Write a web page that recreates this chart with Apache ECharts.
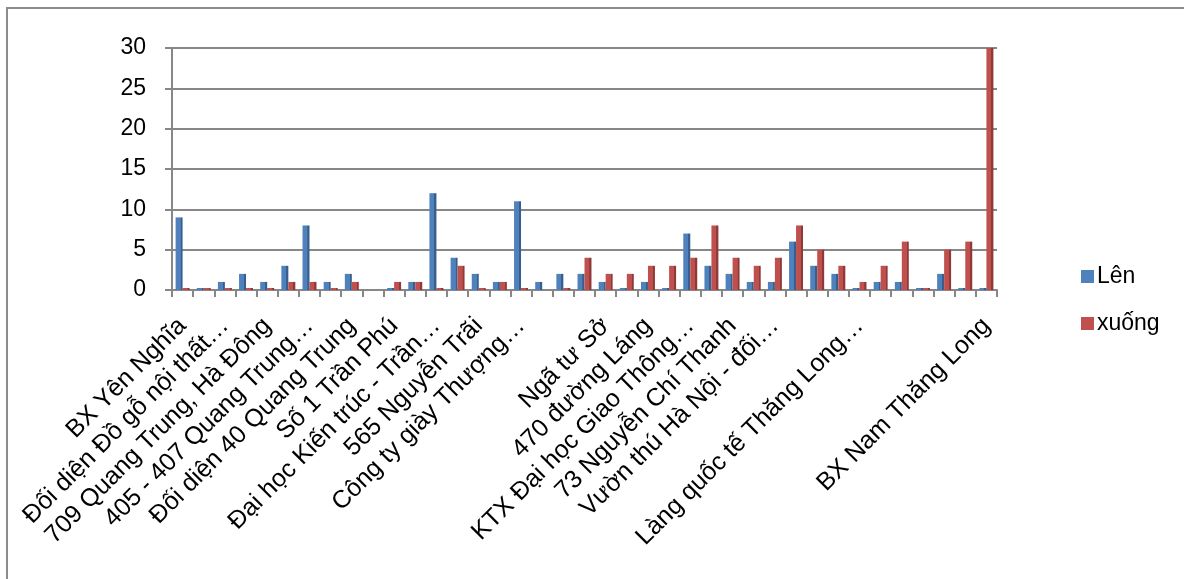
<!DOCTYPE html>
<html>
<head>
<meta charset="utf-8">
<title>Lên / xuống</title>
<script src="https://cdn.jsdelivr.net/npm/echarts@6/dist/echarts.min.js"></script>
<style>
  html, body { margin: 0; padding: 0; background: #ffffff; }
  #chart { width: 1184px; height: 579px; }
</style>
</head>
<body>
<div id="chart"></div>
<script>
// Stops along the route (only every other name is printed on the axis)
const stops = [
  'BX Yên Nghĩa', '',
  'Đối diện Đồ gỗ nội thất…', '',
  '709 Quang Trung, Hà Đông', '',
  '405 - 407 Quang Trung…', '',
  'Đối diện 40 Quang Trung', '',
  'Số 1 Trần Phú', '',
  'Đại học Kiến trúc - Trần…', '',
  '565 Nguyễn Trãi', '',
  'Công ty giày Thượng…', '',
  '', '',
  'Ngã tư Sở', '',
  '470 đường Láng', '',
  'KTX Đại học Giao Thông…', '',
  '73 Nguyễn Chí Thanh', '',
  'Vườn thú Hà Nội - đối…', '',
  '', '',
  'Làng quốc tế Thăng Long…', '',
  '', '',
  '', '',
  'BX Nam Thăng Long'
];

// Passengers boarding at each stop
const len = [9, 0, 1, 2, 1, 3, 8, 1, 2, null, 0, 1, 12, 4, 2, 1, 11, 1, 2, 2,
             1, 0, 1, 0, 7, 3, 2, 1, 1, 6, 3, 2, 0, 1, 1, 0, 2, 0, 0];

// Passengers alighting at each stop
const xuong = [0, 0, 0, 0, 0, 1, 1, 0, 1, null, 1, 1, 0, 3, 0, 1, 0, null, 0, 4,
               2, 2, 3, 3, 4, 8, 4, 3, 4, 8, 5, 3, 1, 3, 6, 0, 5, 6, 30];

const yTicks = { min: 0, max: 30, interval: 5 };

const FONT = '"Liberation Sans", Arial, sans-serif';
const GREY = '#878787';

// Column face + darker side strip to give the bars some depth
function shaded(face, side) {
  return new echarts.graphic.LinearGradient(0, 0, 1, 0, [
    { offset: 0, color: face },
    { offset: 0.7, color: face },
    { offset: 0.72, color: side },
    { offset: 1, color: side }
  ]);
}

const chart = echarts.init(document.getElementById('chart'), null, { renderer: 'canvas' });

chart.setOption({
  backgroundColor: '#ffffff',
  animation: false,
  textStyle: { fontFamily: FONT },
  grid: { left: 172, right: 187, top: 48, bottom: 289, containLabel: false },
  legend: {
    orient: 'vertical',
    left: 1076,
    top: 260,
    itemWidth: 13,
    itemHeight: 13,
    itemGap: 24,
    icon: 'rect',
    textStyle: { fontFamily: FONT, fontSize: 23, color: '#000000', padding: [0, 0, 0, -2] },
    data: [
      { name: 'Lên', itemStyle: { color: '#4f81bd' } },
      { name: 'xuống', itemStyle: { color: '#c0504d' } }
    ]
  },
  xAxis: {
    type: 'category',
    data: stops,
    boundaryGap: true,
    axisLine: { show: true, lineStyle: { color: GREY, width: 2 } },
    axisTick: { show: true, interval: 0, length: 7, lineStyle: { color: GREY, width: 2 } },
    axisLabel: {
      interval: 1,
      rotate: 45,
      margin: 32,
      fontFamily: FONT,
      fontSize: 25,
      color: '#000000'
    },
    splitLine: { show: false }
  },
  yAxis: {
    type: 'value',
    min: yTicks.min,
    max: yTicks.max,
    interval: yTicks.interval,
    axisLine: { show: true, lineStyle: { color: GREY, width: 2 } },
    axisTick: { show: true, length: 7, lineStyle: { color: GREY, width: 2 } },
    axisLabel: { margin: 26, padding: [5, 0, 0, 0], fontFamily: FONT, fontSize: 23, color: '#000000' },
    splitLine: { show: true, lineStyle: { color: GREY, width: 2 } }
  },
  series: [
    {
      name: 'Lên',
      type: 'bar',
      data: len,
      barGap: '0%',
      barCategoryGap: '34%',
      barMinHeight: 2,
      itemStyle: { color: shaded('#4f81bd', '#385e8b') }
    },
    {
      name: 'xuống',
      type: 'bar',
      data: xuong,
      barMinHeight: 2,
      itemStyle: { color: shaded('#c0504d', '#8e3a38') }
    }
  ],
  graphic: [
    {
      type: 'polyline',
      silent: true,
      shape: { points: [[7, 579], [7, 8], [1184, 8]] },
      style: { stroke: '#8c8c8c', lineWidth: 2, fill: null }
    }
  ]
});
</script>
</body>
</html>
